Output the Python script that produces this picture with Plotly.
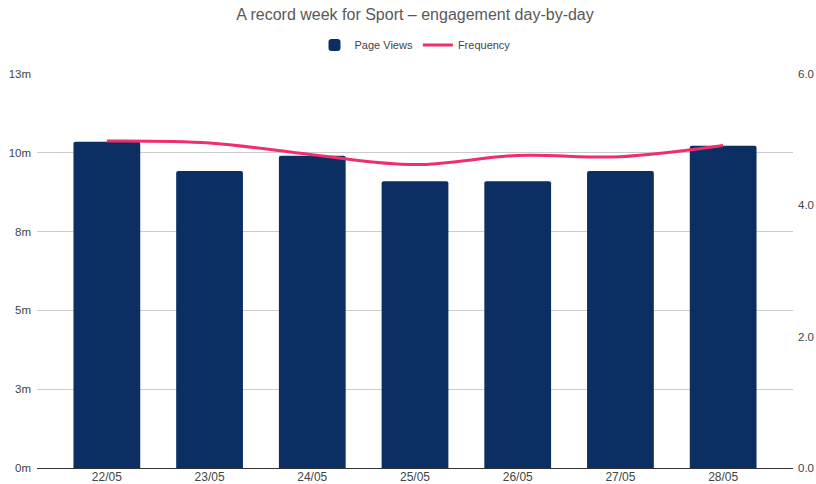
import plotly.graph_objects as go

days = ["22/05", "23/05", "24/05", "25/05", "26/05", "27/05", "28/05"]
page_views = [10.35e6, 9.42e6, 9.91e6, 9.10e6, 9.10e6, 9.42e6, 10.22e6]
frequency = [4.98, 4.95, 4.77, 4.62, 4.76, 4.74, 4.91]

left_tickvals = [0, 2.5e6, 5e6, 7.5e6, 10e6, 12.5e6]
left_ticktext = ["0m", "3m", "5m", "8m", "10m", "13m"]
right_tickvals = [0, 2, 4, 6]
right_ticktext = ["0.0", "2.0", "4.0", "6.0"]

font = "Liberation Sans, Arial, sans-serif"

fig = go.Figure()
fig.add_trace(go.Bar(
    x=days, y=page_views, name="Page Views",
    marker=dict(color="#0b2f62", line=dict(width=0)),
    width=0.65,
))
fig.add_trace(go.Scatter(
    x=days, y=frequency, name="Frequency", yaxis="y2",
    mode="lines", line=dict(color="#ee2f6b", width=3, shape="spline", smoothing=1.0),
))

fig.update_layout(
    width=816, height=484,
    paper_bgcolor="white", plot_bgcolor="white",
    margin=dict(l=37, r=23, t=74, b=16, autoexpand=False),
    font=dict(family=font, size=11, color="#444444"),
    title=dict(text="A record week for Sport – engagement day-by-day",
               x=0.5, xanchor="center", xref="paper",
               yref="container", y=1 - 14 / 484, yanchor="middle",
               font=dict(family=font, size=16, color="#595959")),
    legend=dict(orientation="h", x=0.5, xanchor="center",
                yref="container", y=1 - 45 / 484, yanchor="middle",
                font=dict(family=font, size=11, color="#444444"),
                traceorder="normal"),
    barcornerradius=2,
    xaxis=dict(range=[-0.68, 6.68], showgrid=False, showline=True,
               linecolor="#333333", linewidth=1, ticks="", automargin=False,
               tickfont=dict(size=12, color="#444444"), ticklabelstandoff=-2),
    yaxis=dict(range=[0, 12.5e6], tickvals=left_tickvals, ticktext=left_ticktext,
               showgrid=True, gridcolor="#cccccc", gridwidth=1, zeroline=False,
               ticks="", automargin=False,
               tickfont=dict(size=11.5, color="#444444"), ticklabelstandoff=5),
    yaxis2=dict(range=[0, 6], tickvals=right_tickvals, ticktext=right_ticktext,
                overlaying="y", side="right", showgrid=False, zeroline=False,
                ticks="", automargin=False,
                tickfont=dict(size=11.5, color="#444444"), ticklabelstandoff=4),
    showlegend=True,
)

fig.write_html("out.html", config={"displayModeBar": False},
               post_script="document.body.style.margin='0px';document.body.style.overflow='hidden';")
